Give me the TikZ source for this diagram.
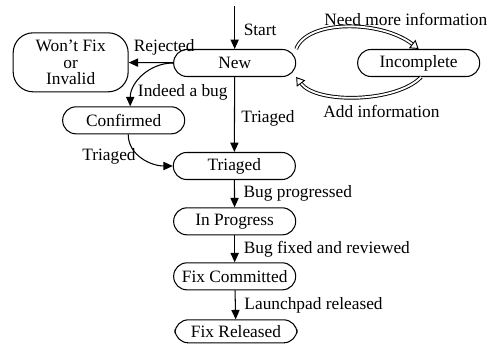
\documentclass[tikz,border=0pt]{standalone}
\usepackage{fontspec}
\setmainfont{Liberation Serif}
\usetikzlibrary{arrows.meta}

\begin{document}
\begin{tikzpicture}[line width=0.9pt, >={Triangle[length=8pt,width=7pt]},
	font=\rmfamily\fontsize{14.8}{14}\selectfont,
	state/.style={draw, rounded corners=0.4cm, minimum width=3.66cm, minimum height=0.81cm, inner sep=1pt},
	info/.style={double=white, double distance=1.6pt, line width=0.8pt, -{Triangle[open,length=7pt,width=9pt]}},
	lbl/.style={right=4pt}]
	\useasboundingbox (0,0) rectangle (15.03,10.38);
	\coordinate (Start) at (7.04, 10.20);
	\node (New)	at ( 7.04,  8.49)	[state]	{New};
	\node (Wont)	at ( 2.12,  8.51)	[state, minimum width=3.45cm, minimum height=1.77cm, rounded corners=0.6cm, align=center]	{Won't Fix\\or\\Invalid};
	\node (Incomplete)	at (12.56,  8.49)	[state]	{Incomplete};
	\node (Confirmed)	at ( 3.71,  6.77)	[state]	{Confirmed};
	\node (Triaged)	at ( 7.03,  5.40)	[state]	{Triaged};
	\node (Progress)	at ( 7.04,  3.74)	[state]	{In Progress};
	\node (Committed)	at ( 7.04,  2.09)	[state]	{Fix Committed};
	\node (Released)	at ( 7.08,  0.44)	[state, minimum height=0.69cm]	{Fix Released};
	\draw[->] (Start) -- node[pos=0.55, lbl] {Start} (New);
	\draw[->] (New) -- node[pos=0.2, above=3pt] {Rejected} (Wont);
	\draw[->] (New.west) to[out=180, in=90] node[pos=0.8, right=1pt] {Indeed a bug} (Confirmed.65);
	\draw[->] (New) -- node[pos=0.55, right=2pt] {Triaged} (Triaged);
	\draw[->] (Confirmed.-72) to[out=-90, in=180] node[pos=0.45, left] {Triaged} (Triaged.west);
	\draw[->] (Triaged) -- node[midway, lbl] {Bug progressed} (Progress);
	\draw[->] (Progress) -- node[midway, lbl] {Bug fixed and reviewed} (Committed);
	\draw[->] (Committed) -- node[midway, lbl] {Launchpad released} (Released);
	\draw[info] (New.north east) .. controls (9.2, 9.79) and (11.42, 9.79) .. node[pos=0.3, above right] {Need more information} (Incomplete.north);
	\draw[info] (Incomplete.-80) .. controls (11.9, 7.3) and (9.5, 7.25) .. node[pos=0.34, below=5pt] {Add information} (New.south east);
\end{tikzpicture}
\end{document}
